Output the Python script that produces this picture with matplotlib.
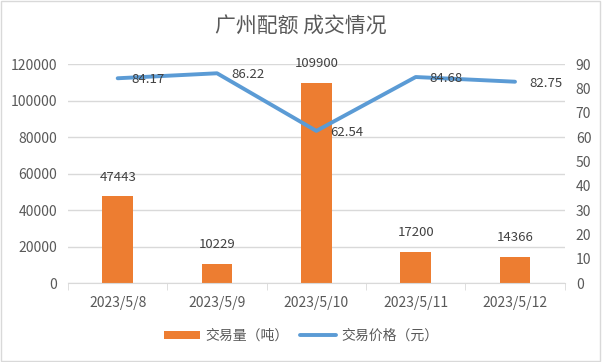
import matplotlib.pyplot as plt
from matplotlib.patches import Rectangle

plt.rcParams['font.family'] = ['Noto Sans CJK SC', 'DejaVu Sans']

dates = ['2023/5/8', '2023/5/9', '2023/5/10', '2023/5/11', '2023/5/12']
volume = [47443, 10229, 109900, 17200, 14366]
price = [84.17, 86.22, 62.54, 84.68, 82.75]

orange = '#ED7D31'
blue = '#5B9BD5'
text_c = '#595959'

fig = plt.figure(figsize=(6.02, 3.62), dpi=100)
ax = fig.add_axes([0.113, 0.218, 0.825, 0.605])
ax2 = ax.twinx()

x = list(range(len(dates)))
ax.bar(x, volume, width=0.31, color=orange, zorder=2, label='交易量（吨）')
ax2.plot(x, price, color=blue, lw=2.8, solid_capstyle='round', label='交易价格（元）')

for xi, v in zip(x, volume):
    ax.annotate(str(v), (xi, v), xytext=(0, 14), textcoords='offset points',
                ha='center', va='center', fontsize=9.5, color='#404040')
for xi, p in zip(x, price):
    ax2.annotate(f'{p:.2f}', (xi, p), xytext=(10, -1), textcoords='offset points',
                 ha='left', va='center', fontsize=9.5, color='#404040')

ax.set_xlim(-0.5, len(dates) - 0.5)
ax.set_ylim(0, 120000)
ax2.set_ylim(0, 90)
ax.set_yticks(range(0, 120001, 20000))
ax2.set_yticks(range(0, 91, 10))
ax.set_xticks(x)
ax.set_xticklabels(dates)
ax.set_xticks([i - 0.5 for i in range(len(dates) + 1)], minor=True)

ax.grid(axis='y', color='#D9D9D9', lw=1, zorder=0)
ax.set_axisbelow(True)
for a in (ax, ax2):
    for s in ('top', 'left', 'right', 'bottom'):
        a.spines[s].set_visible(False)
    a.tick_params(axis='y', length=0, labelsize=10, colors=text_c, pad=8)
ax.spines['bottom'].set_visible(True)
ax.spines['bottom'].set_color('#D9D9D9')
ax.tick_params(axis='x', which='major', length=0, labelsize=10, colors=text_c, pad=9)
ax.tick_params(axis='x', which='minor', length=5, color='#D9D9D9')

fig.text(0.5, 0.925, '广州配额 成交情况', ha='center', va='center', fontsize=15, color=text_c)

h1, l1 = ax.get_legend_handles_labels()
h2, l2 = ax2.get_legend_handles_labels()
fig.legend(h1 + h2, l1 + l2, loc='center', bbox_to_anchor=(0.5, 0.072), ncol=2,
           frameon=False, fontsize=10, labelcolor=text_c, handlelength=2.6,
           handleheight=0.5, columnspacing=0.8, handletextpad=0.4)

fig.patches.append(Rectangle((0.002, 0.003), 0.995, 0.993, transform=fig.transFigure,
                             fill=False, edgecolor='#D9D9D9', lw=1))

fig.savefig('out.png', dpi=100)
